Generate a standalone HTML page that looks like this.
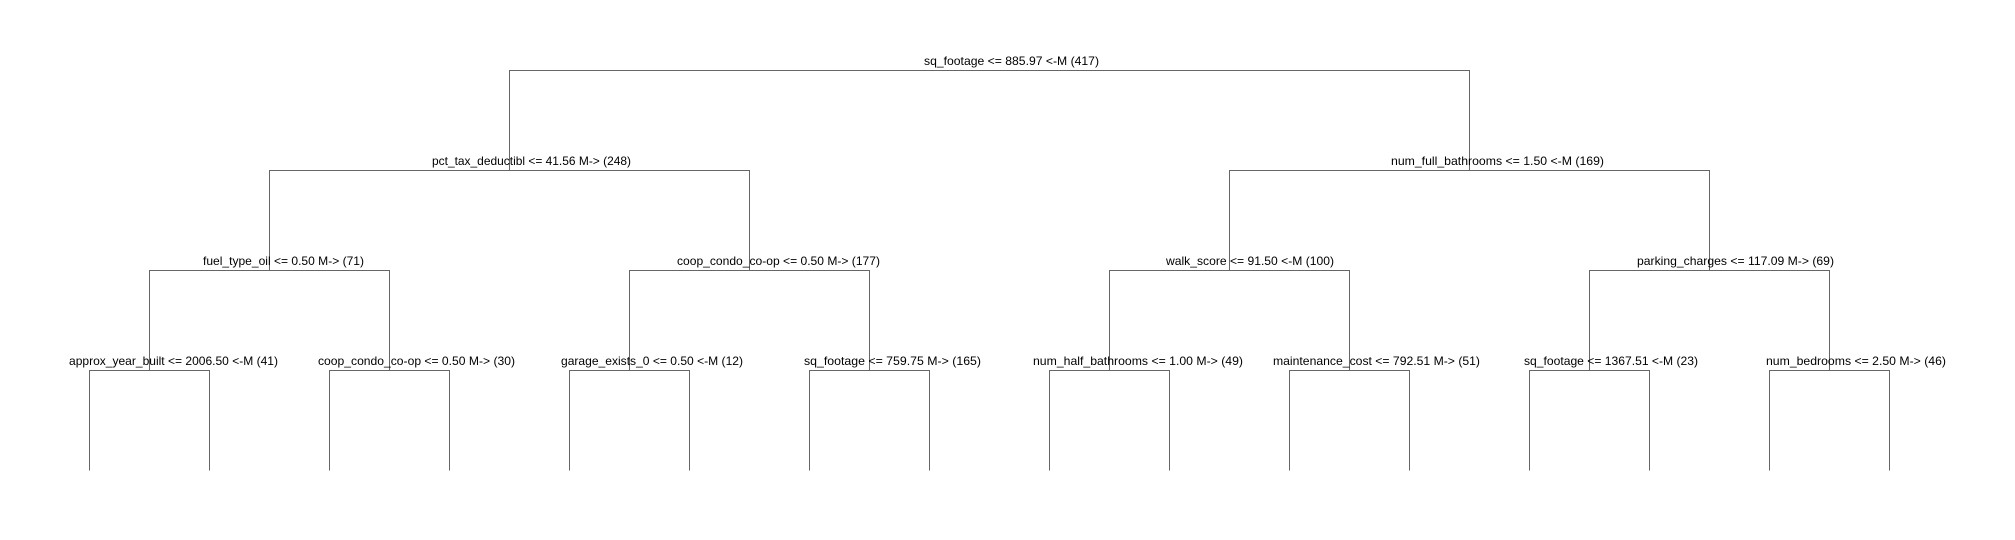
<!DOCTYPE html>
<html><head><meta charset="utf-8"><style>
html,body{margin:0;padding:0;background:#fff;}
svg{display:block;}
text{font-family:"Liberation Sans",sans-serif;font-size:12px;fill:#000;}
</style></head><body>
<svg width="2015" height="540" viewBox="0 0 2015 540" xmlns="http://www.w3.org/2000/svg">
<g stroke="#666" stroke-width="1" fill="none">
<!-- root -->
<path d="M509.5 170.5V70.5H1469.5V170.5"/>
<!-- level1 -->
<path d="M269.5 270.5V170.5H749.5V270.5"/>
<path d="M1229.5 270.5V170.5H1709.5V270.5"/>
<!-- level2 -->
<path d="M149.5 370.5V270.5H389.5V370.5"/>
<path d="M629.5 370.5V270.5H869.5V370.5"/>
<path d="M1109.5 370.5V270.5H1349.5V370.5"/>
<path d="M1589.5 370.5V270.5H1829.5V370.5"/>
<!-- level3 -->
<path d="M89.5 470.5V370.5H209.5V470.5"/>
<path d="M329.5 470.5V370.5H449.5V470.5"/>
<path d="M569.5 470.5V370.5H689.5V470.5"/>
<path d="M809.5 470.5V370.5H929.5V470.5"/>
<path d="M1049.5 470.5V370.5H1169.5V470.5"/>
<path d="M1289.5 470.5V370.5H1409.5V470.5"/>
<path d="M1529.5 470.5V370.5H1649.5V470.5"/>
<path d="M1769.5 470.5V370.5H1889.5V470.5"/>
</g>
<g lengthAdjust="spacingAndGlyphs">
<text x="924" y="65" textLength="175" lengthAdjust="spacingAndGlyphs">sq_footage &lt;= 885.97 &lt;-M (417)</text>
<text x="432" y="165" textLength="199" lengthAdjust="spacingAndGlyphs">pct_tax_deductibl &lt;= 41.56 M-&gt; (248)</text>
<text x="1391" y="165" textLength="213" lengthAdjust="spacingAndGlyphs">num_full_bathrooms &lt;= 1.50 &lt;-M (169)</text>
<text x="203" y="265" textLength="161" lengthAdjust="spacingAndGlyphs">fuel_type_oil &lt;= 0.50 M-&gt; (71)</text>
<text x="677" y="265" textLength="203" lengthAdjust="spacingAndGlyphs">coop_condo_co-op &lt;= 0.50 M-&gt; (177)</text>
<text x="1166" y="265" textLength="168" lengthAdjust="spacingAndGlyphs">walk_score &lt;= 91.50 &lt;-M (100)</text>
<text x="1637" y="265" textLength="197" lengthAdjust="spacingAndGlyphs">parking_charges &lt;= 117.09 M-&gt; (69)</text>
<text x="69" y="365" textLength="209" lengthAdjust="spacingAndGlyphs">approx_year_built &lt;= 2006.50 &lt;-M (41)</text>
<text x="318" y="365" textLength="197" lengthAdjust="spacingAndGlyphs">coop_condo_co-op &lt;= 0.50 M-&gt; (30)</text>
<text x="561" y="365" textLength="182" lengthAdjust="spacingAndGlyphs">garage_exists_0 &lt;= 0.50 &lt;-M (12)</text>
<text x="804" y="365" textLength="177" lengthAdjust="spacingAndGlyphs">sq_footage &lt;= 759.75 M-&gt; (165)</text>
<text x="1033" y="365" textLength="210" lengthAdjust="spacingAndGlyphs">num_half_bathrooms &lt;= 1.00 M-&gt; (49)</text>
<text x="1273" y="365" textLength="207" lengthAdjust="spacingAndGlyphs">maintenance_cost &lt;= 792.51 M-&gt; (51)</text>
<text x="1524" y="365" textLength="174" lengthAdjust="spacingAndGlyphs">sq_footage &lt;= 1367.51 &lt;-M (23)</text>
<text x="1766" y="365" textLength="180" lengthAdjust="spacingAndGlyphs">num_bedrooms &lt;= 2.50 M-&gt; (46)</text>
</g>
</svg>
</body></html>
